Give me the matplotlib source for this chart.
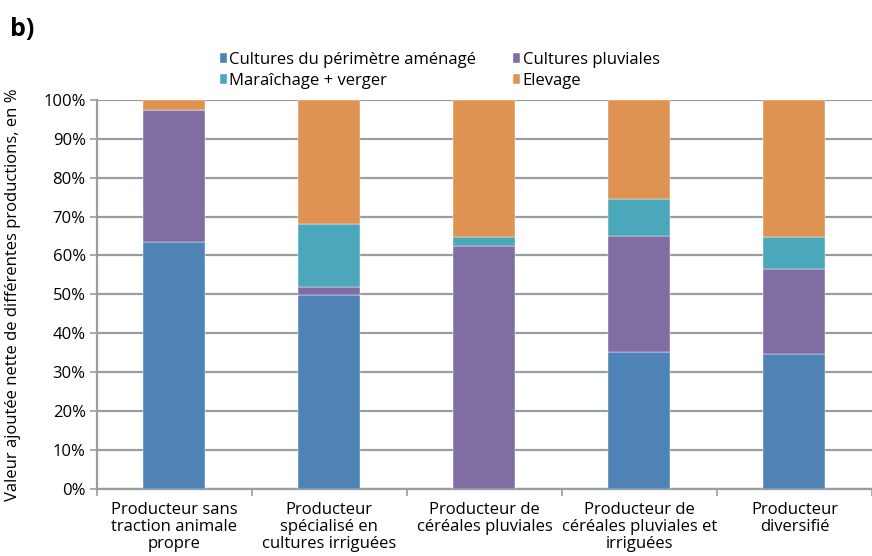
import numpy as np
import matplotlib
matplotlib.use('Agg')
import matplotlib.pyplot as plt
from matplotlib.ticker import PercentFormatter, FixedLocator

plt.rcParams['font.family'] = ['Open Sans', 'DejaVu Sans']

## data (share of net value added, %)
categories = ['Producteur sans\ntraction animale\npropre',
              'Producteur\nspécialisé en\ncultures irriguées',
              'Producteur de\ncéréales pluviales',
              'Producteur de\ncéréales pluviales et\nirriguées',
              'Producteur\ndiversifié']
series_names = ['Cultures du périmètre aménagé', 'Cultures pluviales',
                'Maraîchage + verger', 'Elevage']
perimetre = [63.5, 49.9, 0.0, 35.2, 34.8]
pluviales = [33.9, 2.1, 62.5, 29.9, 21.7]
maraichage = [0.0, 16.0, 2.3, 9.4, 8.2]
elevage = [2.6, 32.0, 35.2, 25.5, 35.3]
colors = ['#4F83B5', '#806EA3', '#4BA8BA', '#DE9352']

## figure
fig = plt.figure(figsize=(8.72, 5.56), dpi=100)
ax = fig.add_axes([0.111, 0.1205, 0.889, 0.70])

x = np.arange(len(categories))
bottom = np.zeros(len(categories))
handles = []
for vals, col, name in zip([perimetre, pluviales, maraichage, elevage], colors, series_names):
    vals = np.array(vals)
    b = ax.bar(x, vals, 0.4, bottom=bottom, color=col, label=name, zorder=3,
               edgecolor='white', linewidth=0.3)
    handles.append(b)
    bottom += vals

ax.set_ylim(0, 100)
ax.set_xlim(-0.5, len(categories) - 0.5)
ax.yaxis.set_major_locator(FixedLocator(np.arange(0, 101, 10)))
ax.yaxis.set_major_formatter(PercentFormatter(decimals=0))
ax.yaxis.grid(True, color='#9A9D9D', linewidth=1.6, zorder=0)

ax.set_xticks(x)
ax.set_xticklabels(categories, fontsize=12, linespacing=1.1)
ax.tick_params(axis='x', length=0, pad=9)
ax.set_xticks(np.arange(-0.5, len(categories), 1), minor=True)
ax.tick_params(axis='x', which='minor', length=5, color='#9A9D9D', width=1.2)
ax.tick_params(axis='y', labelsize=12, length=5, color='#9A9D9D', width=1.2, pad=3)

for s in ['top', 'right']:
    ax.spines[s].set_visible(False)
for s in ['left', 'bottom']:
    ax.spines[s].set_color('#9A9D9D')
    ax.spines[s].set_linewidth(1.6)

ax.set_ylabel('Valeur ajoutée nette de différentes productions, en %', fontsize=12)
ax.yaxis.set_label_coords(-0.098, 0.5)

## legend
order = [0, 2, 1, 3]
fig.legend([handles[i] for i in order], [series_names[i] for i in order],
           loc='upper left', bbox_to_anchor=(0.235, 0.933), ncol=2, frameon=False,
           fontsize=12, handlelength=0.42, handleheight=0.55, handletextpad=0.15,
           columnspacing=2.2, labelspacing=0.28)

fig.text(0.012, 0.935, 'b)', fontsize=18, fontweight='bold')

fig.savefig('out.png', dpi=100)
plt.close()
